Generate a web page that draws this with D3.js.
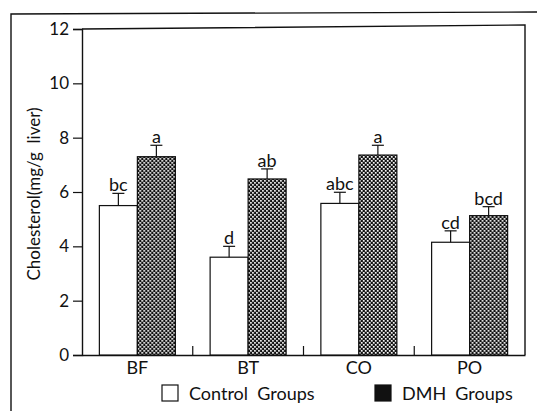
<!DOCTYPE html>
<html>
<head>
<meta charset="utf-8">
<script src="https://cdn.jsdelivr.net/npm/d3@7"></script>
<style>
  body { margin: 0; background: #fff; }
  text { font-family: Lato, "Open Sans", sans-serif; fill: #111; }
</style>
</head>
<body>
<svg id="chart" width="537" height="411"></svg>
<script>
const groups = ["BF", "BT", "CO", "PO"];
const series = ["Control Groups", "DMH Groups"];
const controlMeans = [5.5, 3.6, 5.58, 4.15];
const controlErr = [0.45, 0.4, 0.41, 0.42];
const dmhMeans = [7.3, 6.48, 7.36, 5.13];
const dmhErr = [0.42, 0.37, 0.36, 0.33];
const controlLetters = ["bc", "d", "abc", "cd"];
const dmhLetters = ["a", "ab", "a", "bcd"];
const yTicks = [0, 2, 4, 6, 8, 10, 12];

const plotLeft = 82, plotRight = 525, plotTop = 29, plotBottom = 355;

const svg = d3.select("#chart");

// checker fill for DMH bars
const pat = svg.append("defs").append("pattern")
  .attr("id", "checks")
  .attr("width", 4).attr("height", 4)
  .attr("patternUnits", "userSpaceOnUse");
pat.append("rect").attr("width", 4).attr("height", 4).attr("fill", "#111");
pat.append("rect").attr("x", 0).attr("y", 0).attr("width", 1.7).attr("height", 1.7).attr("fill", "#fff");
pat.append("rect").attr("x", 2).attr("y", 2).attr("width", 1.7).attr("height", 1.7).attr("fill", "#fff");

const x = d3.scaleBand().domain(groups).range([plotLeft, plotRight]);
const x1 = d3.scaleBand().domain(series).range([0, x.bandwidth()]).paddingOuter(0.457);
const y = d3.scaleLinear().domain([0, 12]).range([plotBottom, plotTop]);

// outer frame (partly cropped)
svg.append("path")
  .attr("d", "M11,411 L11,14 L537,12")
  .attr("fill", "none").attr("stroke", "#111").attr("stroke-width", 1.4);

// inner frame top + right
svg.append("path")
  .attr("d", `M${plotLeft},${plotTop} L${plotRight},${plotTop - 4} L${plotRight},${plotBottom}`)
  .attr("fill", "none").attr("stroke", "#111").attr("stroke-width", 1.4);

// y axis
const yAxis = svg.append("g")
  .attr("transform", `translate(${plotLeft},0)`)
  .call(d3.axisLeft(y).tickValues(yTicks).tickSize(9).tickPadding(4));
yAxis.select(".domain").attr("stroke", "#111").attr("stroke-width", 1.4);
yAxis.selectAll(".tick line").attr("stroke", "#111").attr("stroke-width", 1.2);
yAxis.selectAll(".tick text").style("font-size", "17px").attr("fill", "#111");

// x axis: baseline + small inner ticks between groups
const xAxis = svg.append("g")
  .attr("transform", `translate(0,${plotBottom})`)
  .call(d3.axisBottom(x).tickSize(0).tickPadding(6));
xAxis.select(".domain").attr("stroke", "#111").attr("stroke-width", 1.4);
xAxis.selectAll(".tick text").style("font-size", "18px").attr("fill", "#111");
xAxis.selectAll(".sep")
  .data(groups.slice(1))
  .enter().append("line")
  .attr("x1", d => x(d)).attr("x2", d => x(d))
  .attr("y1", 0).attr("y2", -9)
  .attr("stroke", "#111").attr("stroke-width", 1.2);

// bars
const rows = [];
groups.forEach((g, i) => {
  rows.push({ g, s: series[0], v: controlMeans[i], e: controlErr[i], lab: controlLetters[i] });
  rows.push({ g, s: series[1], v: dmhMeans[i], e: dmhErr[i], lab: dmhLetters[i] });
});

const bar = svg.append("g").selectAll("g")
  .data(rows).enter().append("g")
  .attr("transform", d => `translate(${x(d.g) + x1(d.s)},0)`);

bar.append("rect")
  .attr("x", 0)
  .attr("y", d => y(d.v))
  .attr("width", x1.bandwidth())
  .attr("height", d => y(0) - y(d.v))
  .attr("fill", d => d.s === series[0] ? "#fff" : "url(#checks)")
  .attr("stroke", "#111").attr("stroke-width", 1.2);

// error bars (upper only)
const cx = x1.bandwidth() / 2;
bar.append("line")
  .attr("x1", cx).attr("x2", cx)
  .attr("y1", d => y(d.v)).attr("y2", d => y(d.v + d.e))
  .attr("stroke", "#111").attr("stroke-width", 1.2);
bar.append("line")
  .attr("x1", cx - 6).attr("x2", cx + 6)
  .attr("y1", d => y(d.v + d.e)).attr("y2", d => y(d.v + d.e))
  .attr("stroke", "#111").attr("stroke-width", 1.2);

bar.append("text")
  .attr("x", cx)
  .attr("y", d => y(d.v + d.e) - 2)
  .attr("text-anchor", "middle")
  .style("font-size", "18px")
  .text(d => d.lab);

// y axis title
svg.append("text")
  .attr("transform", "translate(40,194) rotate(-90)")
  .attr("text-anchor", "middle")
  .style("font-size", "17px")
  .style("white-space", "pre")
  .text("Cholesterol(mg/g  liver)");

// legend
const legendX = [162, 375];
const legend = svg.append("g").selectAll("g")
  .data(series).enter().append("g")
  .attr("transform", (d, i) => `translate(${legendX[i]},385)`);
legend.append("rect")
  .attr("width", 16).attr("height", 16)
  .attr("fill", (d, i) => i === 0 ? "#fff" : "#111")
  .attr("stroke", "#111").attr("stroke-width", 1.2);
legend.append("text")
  .attr("x", 27).attr("y", 15)
  .style("font-size", "18px")
  .style("white-space", "pre")
  .text(d => d.replace(" ", "  "));
</script>
</body>
</html>
